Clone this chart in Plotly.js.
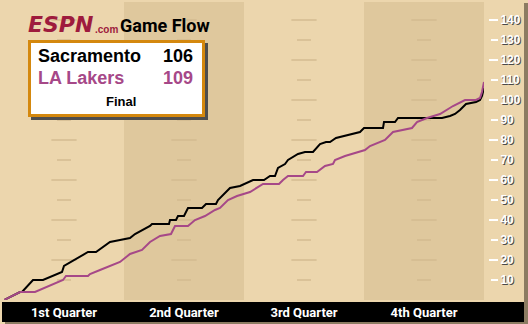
<!DOCTYPE html>
<html><head><meta charset="utf-8">
<script src="https://cdn.plot.ly/plotly-3.0.1.min.js"></script>
<style>html,body{margin:0;padding:0;background:#ECD6AD;overflow:hidden}#chart{width:528px;height:324px}</style>
</head><body><div id="chart"></div>
<script>
// ---- data (minutes elapsed, running score) ----
const sacMinutes = [0,1.6,1.8,2.9,3.9,5.8,6.0,8.4,9.2,10.6,11.6,12.6,13.1,14.6,14.8,16.5,16.6,17.2,17.4,18.0,18.4,19.8,20.2,21.2,21.4,22.6,23.6,24.9,26.0,26.6,27.1,27.4,28.1,28.4,29.4,30.1,30.9,31.4,31.6,32.2,32.6,33.2,34.1,35.6,36.0,37.9,38.0,39.1,39.4,43.8,44.6,45.1,45.6,46.2,47.2,47.6,47.8,48];
const sacScores  = [0,4,4,10,10,14,17,24,24,29,30,31,33,37,38,38,40,40,42,42,46,46,48,48,50,56,57,60,60,62,62,66,68,70,73,74,74,77,78,79,79,81,82,84,86,86,89,89,91,91,92,93,95,98,99,100,102,106];
const lalMinutes = [0,1.6,2.9,3.1,5.9,6.2,8.4,8.6,9.6,10.6,11.6,12.6,13.8,14.6,15.6,16.7,17.1,18.4,19.1,20.1,21.1,21.6,22.4,23.3,24.6,25.9,27.5,27.9,28.4,29.9,30.2,31.3,32.1,32.9,33.1,34.1,36.1,36.6,38.1,38.9,40.8,41.3,42.3,43.6,44.9,46.1,47.2,47.6,47.8,48];
const lalScores  = [0,4,4,4,10,12,12,13,15,17,19,23,25,29,32,33,37,37,40,42,45,46,50,52,54,58,58,60,62,62,64,64,67,68,70,72,75,77,80,84,86,89,91,93,97,100,100,101,104,109];
const teamNames = ['Sacramento','LA Lakers'];
const finalScores = [106,109];
const quarterLabels = ['1st Quarter','2nd Quarter','3rd Quarter','4th Quarter'];
const quarterMids = [6,18,30,42];
const quarterStarts = [0,12,24,36];
const scoreTicks = [10,20,30,40,50,60,70,80,90,100,110,120,130,140];
const longTicks = [20,40,60,80,100,120,140];

// ---- layout helpers ----
const W=528,H=324,ML=4,MR=36,MT=2,MB=24;
const PW=W-ML-MR, PH=H-MT-MB;
const px = x => (x-ML)/PW;
const py = y => (H-MB-y)/PH;

const LIGHT='#ECD6AD', DARK='#DFC89D', PURPLE='#A64888';
const COND='Roboto, Lato, sans-serif';
const SANS='Liberation Sans, Arial, sans-serif';

// inner faint tick marks at quarter centres
const mX=[], mY=[], mS=[];
quarterMids.forEach(q => scoreTicks.forEach(v => { mX.push(q); mY.push(v); mS.push(longTicks.includes(v)?18:10); }));

const traces = [
  {x:mX, y:mY, mode:'markers', type:'scatter', xaxis:'x', yaxis:'y', hoverinfo:'skip', showlegend:false,
   marker:{symbol:'line-ew', size:mS, color:'#D3BA90', line:{color:'#D3BA90', width:2}}},
  {x:sacMinutes, y:sacScores, mode:'lines', type:'scatter', xaxis:'x', yaxis:'y2', name:teamNames[0], showlegend:false,
   line:{color:'#000000', width:2}},
  {x:lalMinutes, y:lalScores, mode:'lines', type:'scatter', xaxis:'x', yaxis:'y2', name:teamNames[1], showlegend:false,
   line:{color:PURPLE, width:2}}
];

const shapes = [];
// quarter shading (2nd and 4th)
[1,3].forEach(i => shapes.push({type:'rect', xref:'x', yref:'paper', x0:quarterStarts[i], x1:quarterStarts[i]+12, y0:0, y1:1, fillcolor:DARK, line:{width:0}, layer:'below'}));
// right shadow, bottom bar and its shadow
shapes.push({type:'rect', xref:'paper', yref:'paper', x0:px(524), x1:px(528), y0:py(324), y1:py(3), fillcolor:'#8C7C62', line:{width:0}, layer:'below'});
shapes.push({type:'rect', xref:'paper', yref:'paper', x0:px(5), x1:px(528), y0:py(324), y1:py(321), fillcolor:'#8C7C62', line:{width:0}, layer:'below'});
shapes.push({type:'rect', xref:'paper', yref:'paper', x0:px(2), x1:px(524), y0:py(322), y1:py(302), fillcolor:'#000000', line:{width:0}, layer:'below'});
// score box with shadow
shapes.push({type:'rect', xref:'paper', yref:'paper', x0:px(31), x1:px(208), y0:py(120), y1:py(43), fillcolor:'#4E4E4E', line:{width:0}, layer:'above'});
shapes.push({type:'rect', xref:'paper', yref:'paper', x0:px(29.5), x1:px(203.5), y0:py(115.5), y1:py(41.5), fillcolor:'#FFFFFF', line:{color:'#D4880E', width:3}, layer:'above'});

const ann = (text, x, y, xanchor, font) => ({text, x:px(x), y:py(y), xref:'paper', yref:'paper', xanchor, yanchor:'middle', showarrow:false, borderpad:0, font});
const annotations = [
  ann('<b><i>ESPN</i></b>', 27, 24.5, 'left', {family:'DejaVu Sans, sans-serif', size:22, color:'#9E1B3D'}),
  ann('<b>.com</b>', 94, 29, 'left', {family:SANS, size:10, color:'#9E1B3D'}),
  ann('<b>Game Flow</b>', 119, 25.5, 'left', {family:COND, size:18, color:'#000000'}),
  ann('<b>'+teamNames[0]+'</b>', 37, 56, 'left', {family:SANS, size:18, color:'#000000'}),
  ann('<b>'+finalScores[0]+'</b>', 194, 56, 'right', {family:SANS, size:18, color:'#000000'}),
  ann('<b>'+teamNames[1]+'</b>', 37, 78, 'left', {family:SANS, size:18, color:PURPLE}),
  ann('<b>'+finalScores[1]+'</b>', 194, 78, 'right', {family:SANS, size:18, color:PURPLE}),
  ann('<b>Final</b>', 120.5, 102, 'center', {family:SANS, size:13, color:'#000000'})
];

const layout = {
  width:W, height:H, margin:{l:ML, r:MR, t:MT, b:MB, pad:0},
  paper_bgcolor:LIGHT, plot_bgcolor:'rgba(0,0,0,0)', showlegend:false,
  xaxis:{domain:[0, 480/PW], range:[0,48], showgrid:false, zeroline:false, showline:false, ticks:'', ticklabelstandoff:3,
         tickvals:quarterMids, ticktext:quarterLabels, tickfont:{family:COND, size:13, color:'#FFFFFF', weight:700}, fixedrange:true},
  yaxis:{range:[0,149], side:'right', anchor:'free', position:px(490), showgrid:false, zeroline:false, showline:false,
         ticks:'outside', ticklen:7, tickwidth:2, tickcolor:'#FFFFFF', tickvals:scoreTicks, ticktext:scoreTicks.map(String),
         tickfont:{family:SANS, size:12, color:'#FFFFFF', weight:700, shadow:'1px 1px 0px #4A4A4A'}, fixedrange:true},
  yaxis2:{range:[0,149], overlaying:'y', side:'right', anchor:'free', position:px(488), showgrid:false, zeroline:false, showline:false,
         ticks:'outside', ticklen:9, tickwidth:2, tickcolor:'#FFFFFF', tickvals:longTicks, showticklabels:false, fixedrange:true},
  shapes, annotations
};
Plotly.newPlot('chart', traces, layout, {staticPlot:true, displayModeBar:false});
</script></body></html>
